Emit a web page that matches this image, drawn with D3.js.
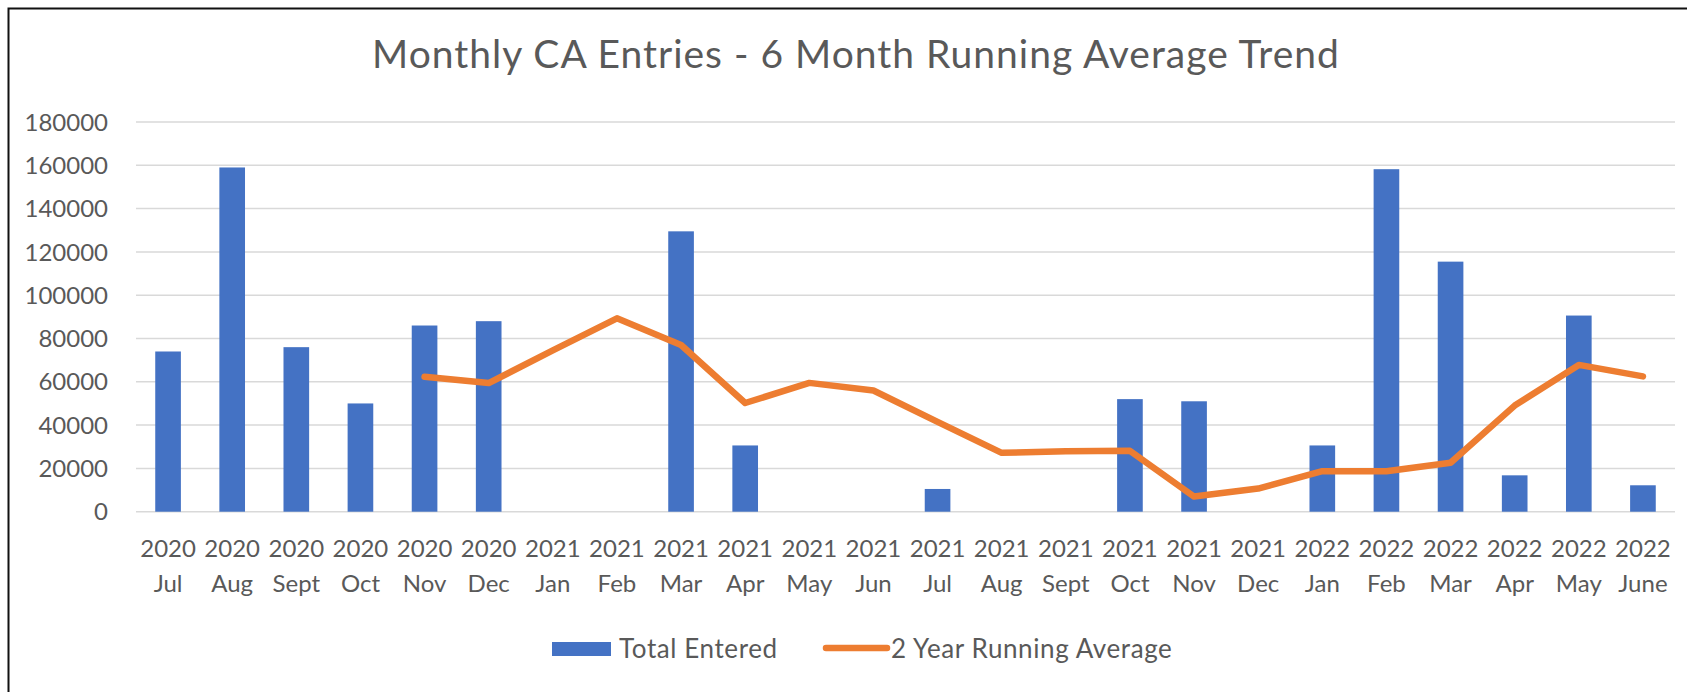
<!DOCTYPE html>
<html>
<head>
<meta charset="utf-8">
<script src="https://cdn.jsdelivr.net/npm/d3@7"></script>
<style>
  body { margin: 0; background: #fff; }
  text { font-family: Lato, "Open Sans", sans-serif; fill: #595959; }
</style>
</head>
<body>
<div id="chart"></div>
<script>
// data
const years = ["2020", "2020", "2020", "2020", "2020", "2020",
  "2021", "2021", "2021", "2021", "2021", "2021", "2021", "2021", "2021", "2021", "2021", "2021",
  "2022", "2022", "2022", "2022", "2022", "2022"];
const months = ["Jul", "Aug", "Sept", "Oct", "Nov", "Dec",
  "Jan", "Feb", "Mar", "Apr", "May", "Jun", "Jul", "Aug", "Sept", "Oct", "Nov", "Dec",
  "Jan", "Feb", "Mar", "Apr", "May", "June"];
const totalEntered = [74000, 159000, 76000, 50000, 86000, 88000,
  0, 0, 129500, 30600, 0, 0, 10500, 0, 0, 52000, 51000, 0,
  30600, 158200, 115500, 16800, 90600, 12200];
const runningAvg = [null, null, null, null, 62300, 59400,
  74500, 89300, 77000, 50200, 59500, 56000, 41500, 27200, 27900, 28100, 7000, 10700,
  18700, 18700, 22600, 49000, 67800, 62500];
const yTicks = [0, 20000, 40000, 60000, 80000, 100000, 120000, 140000, 160000, 180000];

const width = 1687, height = 692;
const margin = {top: 122, right: 12, bottom: 180, left: 136};

const svg = d3.select("#chart").append("svg")
  .attr("width", width)
  .attr("height", height);

// chart border (right and bottom edges fall outside the crop)
svg.append("path")
  .attr("d", "M8.5," + height + "V8.5H" + width)
  .attr("fill", "none")
  .attr("stroke", "#111")
  .attr("stroke-width", 2);

const keys = d3.range(totalEntered.length);

const x = d3.scaleBand()
  .domain(keys)
  .range([margin.left, width - margin.right])
  .paddingInner(0.6)
  .paddingOuter(0.3);

const y = d3.scaleLinear()
  .domain([0, 180000])
  .range([height - margin.bottom - 0.3, margin.top]);

// gridlines
svg.append("g")
  .selectAll("line")
  .data(yTicks)
  .join("line")
  .attr("x1", margin.left)
  .attr("x2", width - margin.right)
  .attr("y1", d => y(d))
  .attr("y2", d => y(d))
  .attr("stroke", "#d9d9d9")
  .attr("stroke-width", 1.5);

// y labels
svg.append("g")
  .selectAll("text")
  .data(yTicks)
  .join("text")
  .attr("x", 108)
  .attr("y", d => y(d))
  .attr("dy", "0.36em")
  .attr("text-anchor", "end")
  .style("font-size", "24px")
  .text(d => d);

// bars
svg.append("g")
  .selectAll("rect")
  .data(keys)
  .join("rect")
  .attr("x", i => x(i))
  .attr("y", i => y(totalEntered[i]))
  .attr("width", x.bandwidth())
  .attr("height", i => y(0) - y(totalEntered[i]))
  .attr("fill", "#4472c4");

// running average line
const line = d3.line()
  .defined(i => runningAvg[i] !== null)
  .x(i => x(i) + x.bandwidth() / 2)
  .y(i => y(runningAvg[i]));

svg.append("path")
  .datum(keys)
  .attr("d", line)
  .attr("fill", "none")
  .attr("stroke", "#ed7d31")
  .attr("stroke-width", 6.5)
  .attr("stroke-linejoin", "round")
  .attr("stroke-linecap", "round");

// x labels, two lines
const xLab = svg.append("g")
  .selectAll("text")
  .data(keys)
  .join("text")
  .attr("text-anchor", "middle")
  .style("font-size", "24px");

xLab.append("tspan")
  .attr("x", i => x(i) + x.bandwidth() / 2)
  .attr("y", 557)
  .text(i => years[i]);

xLab.append("tspan")
  .attr("x", i => x(i) + x.bandwidth() / 2)
  .attr("y", 592)
  .text(i => months[i]);

// title
svg.append("text")
  .attr("x", 856)
  .attr("y", 68)
  .attr("text-anchor", "middle")
  .style("font-size", "39px")
  .style("letter-spacing", "1px")
  .text("Monthly CA Entries - 6 Month Running Average Trend");

// legend
const legend = svg.append("g");

legend.append("rect")
  .attr("x", 552)
  .attr("y", 642)
  .attr("width", 59)
  .attr("height", 14)
  .attr("fill", "#4472c4");

legend.append("text")
  .attr("x", 619)
  .attr("y", 658)
  .style("font-size", "26px")
  .style("letter-spacing", "0.6px")
  .text("Total Entered");

legend.append("line")
  .attr("x1", 826)
  .attr("x2", 887)
  .attr("y1", 648)
  .attr("y2", 648)
  .attr("stroke", "#ed7d31")
  .attr("stroke-width", 6.5)
  .attr("stroke-linecap", "round");

legend.append("text")
  .attr("x", 891)
  .attr("y", 658)
  .style("font-size", "26px")
  .style("letter-spacing", "0.6px")
  .text("2 Year Running Average");
</script>
</body>
</html>
